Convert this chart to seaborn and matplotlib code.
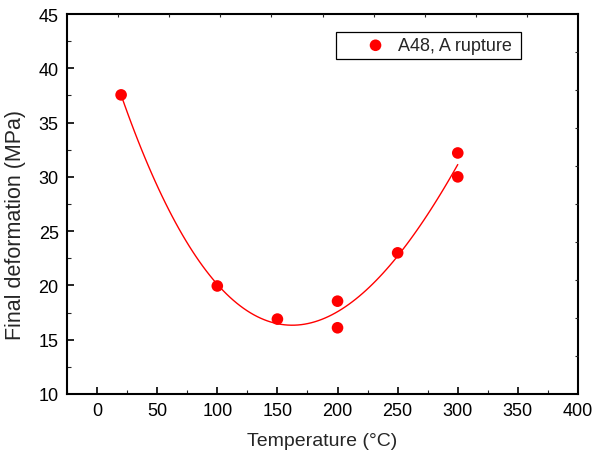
import numpy as np
import pandas as pd
import matplotlib
matplotlib.use("Agg")
import matplotlib.pyplot as plt
from matplotlib.patches import Rectangle
import seaborn as sns

temperature = [20, 100, 150, 200, 200, 250, 300, 300]
deformation = [37.55, 19.95, 16.9, 18.55, 16.1, 23.0, 32.2, 30.0]
series_label = "A48, A rupture"
x_ticks = [0, 50, 100, 150, 200, 250, 300, 350, 400]
y_ticks = [10, 15, 20, 25, 30, 35, 40, 45]

df = pd.DataFrame({"T": temperature, "D": deformation})

sns.set_style("white")
plt.rcParams["font.family"] = ["Liberation Sans", "DejaVu Sans"]

W, H = 592, 452
fig = plt.figure(figsize=(W/100, H/100), dpi=100)
ax = fig.add_axes([67/W, 1-395/H, (578-67)/W, (395-15)/H])

sns.regplot(data=df, x="T", y="D", order=3, ci=None, scatter=False, truncate=True,
            color="red", line_kws={"linewidth": 1.0}, ax=ax)
sns.scatterplot(data=df, x="T", y="D", color="red", s=70, edgecolor="none",
                label=series_label, ax=ax, zorder=3)

ax.set_xlim(-25, 400)
ax.set_ylim(10, 45)
ax.set_xticks(x_ticks)
ax.set_yticks(y_ticks)
ax.set_xticks(np.arange(-25, 400, 50), minor=True)
ax.set_yticks(np.arange(12.5, 45, 5), minor=True)
ax.tick_params(axis="both", which="major", direction="in", length=5, width=1.2,
               labelsize=13, colors="black", left=True, bottom=True, pad=6)
ax.tick_params(axis="both", which="minor", direction="in", length=3, width=0.8,
               left=True, bottom=True)
for s in ax.spines.values():
    s.set_color("black")
    s.set_linewidth(1.5)

ax.set_xlabel("Temperature (°C)", fontsize=14, labelpad=9)
ax.set_ylabel("Final deformation (MPa)", fontsize=15.5)
ax.yaxis.set_label_coords((26-67)/511, (395-225)/380)

# top/right small ticks (equal divisions)
axt = ax.twiny()
axt.set_xlim(0, 10)
axt.set_xticks(range(1, 10))
axt.tick_params(axis="x", direction="in", length=2, width=0.8, labeltop=False, top=True)
axr = ax.twinx()
axr.set_ylim(0, 10)
axr.set_yticks(range(1, 10))
axr.tick_params(axis="y", direction="in", length=2, width=0.8, labelright=False, right=True)
for a in (axt, axr):
    for s in a.spines.values():
        s.set_visible(False)

leg = ax.legend(loc="center left", bbox_to_anchor=(366.5/W, 1-46.5/H),
                bbox_transform=fig.transFigure, frameon=False, fontsize=13,
                borderpad=0, handlelength=1.0, handletextpad=0.75,
                borderaxespad=0)
fig.patches.append(Rectangle((336/W, 1-60/H), (521-336)/W, 27/H,
                             transform=fig.transFigure, fill=False,
                             edgecolor="black", linewidth=0.9, zorder=5))

fig.savefig("out.png", dpi=100)
